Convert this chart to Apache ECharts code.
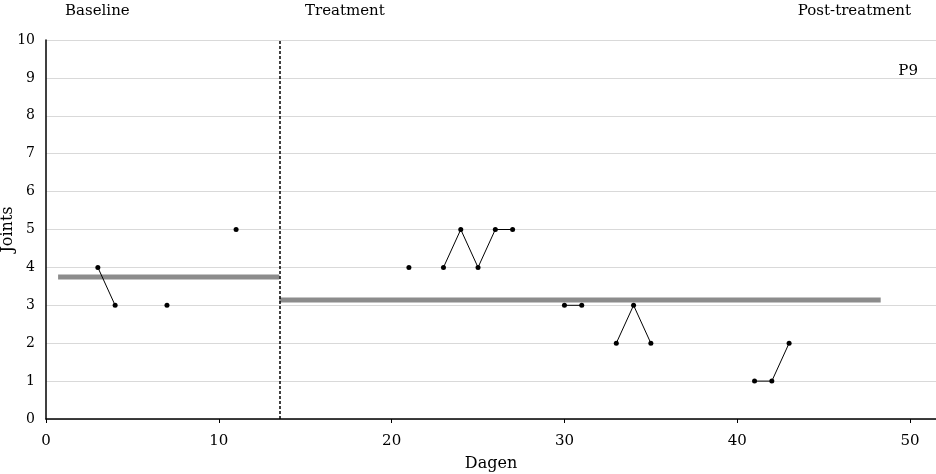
<!DOCTYPE html>
<html><head><meta charset="utf-8">
<script src="https://cdn.jsdelivr.net/npm/echarts@6/dist/echarts.min.js"></script>
<style>html,body{margin:0;padding:0;background:#fff}#c{width:936px;height:474px}</style>
</head><body><div id="c"></div>
<script>
const days   = [3, 4, 7, 11, 21, 23, 24, 25, 26, 27, 30, 31, 33, 34, 35, 41, 42, 43];
const joints = [4, 3, 3, 5, 4, 4, 5, 4, 5, 5, 3, 3, 2, 3, 2, 1, 1, 2];
const phaseChange = 13.5;
const baselineMean = {from: 0.7, to: 13.5, value: 3.75};
const treatmentMean = {from: 13.5, to: 48.3, value: 3.14};
const phaseLabels = ['Baseline', 'Treatment', 'Post-treatment'];
const participant = 'P9';
const xTicks = [0, 10, 20, 30, 40, 50];

// split into segments of consecutive days
const segments = [];
let cur = [];
for (let i = 0; i < days.length; i++) {
  if (cur.length && days[i] !== days[i-1] + 1) { segments.push(cur); cur = []; }
  cur.push([days[i], joints[i]]);
}
if (cur.length) segments.push(cur);

const FONT = '"DejaVu Serif", "Liberation Serif", serif';
const series = [];
series.push({type:'line', data:[[baselineMean.from, baselineMean.value],[baselineMean.to, baselineMean.value]],
  showSymbol:false, lineStyle:{color:'#8c8c8c', width:5}, silent:true, z:1,
  markLine:{silent:true, symbol:'none', label:{show:false},
    lineStyle:{type:[3,2], color:'#000', width:1.5}, data:[{xAxis: phaseChange}]}});
series.push({type:'line', data:[[treatmentMean.from, treatmentMean.value],[treatmentMean.to, treatmentMean.value]],
  showSymbol:false, lineStyle:{color:'#8c8c8c', width:5}, silent:true, z:1});
segments.forEach(seg => series.push({type:'line', data:seg, symbol:'circle', symbolSize:5, showSymbol:true,
  itemStyle:{color:'#000'}, lineStyle:{color:'#000', width:1}, z:3}));

const chart = echarts.init(document.getElementById('c'));
chart.setOption({
  animation:false,
  textStyle:{fontFamily:FONT},
  grid:{left:46, right:0, top:40, bottom:55, containLabel:false, outerBoundsMode:'none'},
  xAxis:{type:'value', min:0, max:51.5, interval:10, name:'Dagen', nameLocation:'middle', nameGap:37,
    nameMoveOverlap:false,
    nameTextStyle:{fontSize:16, color:'#000', fontFamily:FONT},
    axisLine:{lineStyle:{color:'#000', width:1.5}}, axisTick:{show:true, length:4, lineStyle:{color:'#000'}},
    axisLabel:{color:'#000', fontSize:15, fontFamily:FONT, margin:15, showMaxLabel:false,
      formatter: v => xTicks.includes(v) ? String(v) : ''},
    splitLine:{show:false}},
  yAxis:{type:'value', min:0, max:10, interval:1, name:'Joints', nameLocation:'middle', nameGap:30, nameRotate:90,
    nameMoveOverlap:false,
    nameTextStyle:{fontSize:16, color:'#000', fontFamily:FONT},
    axisLine:{show:true, lineStyle:{color:'#000', width:1.5}}, axisTick:{show:false},
    axisLabel:{color:'#000', fontSize:14, fontFamily:FONT, margin:11},
    splitLine:{show:true, lineStyle:{color:'#d9d9d9', width:1}}},
  graphic:[
    {type:'text', left:65, top:4, style:{text:phaseLabels[0], font:'15px '+FONT, fill:'#000'}},
    {type:'text', left:305, top:4, style:{text:phaseLabels[1], font:'15px '+FONT, fill:'#000'}},
    {type:'text', right:25, top:4, style:{text:phaseLabels[2], font:'15px '+FONT, fill:'#000'}},
    {type:'text', right:18, top:64, style:{text:participant, font:'15px '+FONT, fill:'#000'}}
  ],
  series
});
</script></body></html>
